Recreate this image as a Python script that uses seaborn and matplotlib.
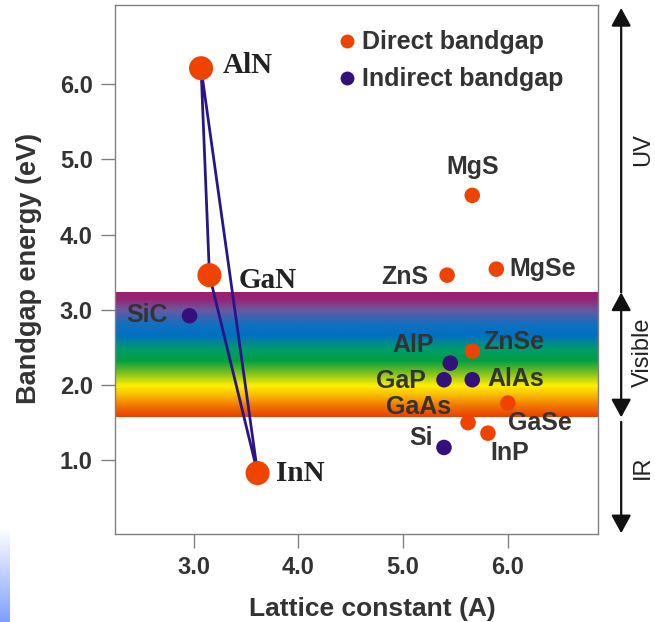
import numpy as np
import pandas as pd
import matplotlib.pyplot as plt
from matplotlib.colors import LinearSegmentedColormap
from matplotlib.lines import Line2D
import seaborn as sns

# values
compounds = ["AlN", "GaN", "InN", "MgS", "ZnS", "MgSe", "SiC", "ZnSe",
             "AlP", "GaP", "AlAs", "GaSe", "GaAs", "InP", "Si"]
lattice = [3.07, 3.15, 3.61, 5.66, 5.42, 5.89, 2.96, 5.66,
           5.45, 5.39, 5.66, 6.00, 5.62, 5.81, 5.39]
bandgap = [6.21, 3.46, 0.83, 4.52, 3.46, 3.54, 2.92, 2.45,
           2.29, 2.07, 2.07, 1.76, 1.50, 1.36, 1.17]
gap_type = ["Direct", "Direct", "Direct", "Direct", "Direct", "Direct", "Indirect", "Direct",
            "Indirect", "Indirect", "Indirect", "Direct", "Direct", "Direct", "Indirect"]
nitrides = ["AlN", "GaN", "InN"]
triangle = ["AlN", "GaN", "InN", "AlN"]

visible_lo, visible_hi = 1.57, 3.23
xticks = [3.0, 4.0, 5.0, 6.0]
yticks = [1.0, 2.0, 3.0, 4.0, 5.0, 6.0]

df = pd.DataFrame({"compound": compounds, "a": lattice, "eg": bandgap, "gap": gap_type})
df["nitride"] = df["compound"].isin(nitrides)
tri = df.set_index("compound").loc[triangle].reset_index()

palette = {"Direct": "#ee4400", "Indirect": "#33107a"}

# label offsets in pixels (dx, dy, ha)
offsets = {
    "AlN": (22, 3, "left"), "GaN": (29, -5, "left"), "InN": (18, 0, "left"),
    "MgS": (0, 28, "center"), "ZnS": (-19, -2, "right"), "MgSe": (13, 0, "left"),
    "SiC": (-22, 1, "right"), "ZnSe": (11, 9, "left"), "AlP": (-16, 18, "right"),
    "GaP": (-18, -1, "right"), "AlAs": (15, 1, "left"), "GaSe": (0, -20, "left"),
    "GaAs": (-17, 16, "right"), "InP": (2, -20, "left"), "Si": (-11, 9, "right"),
}

sns.set_theme(style="white")
plt.rcParams["font.family"] = ["Liberation Sans", "DejaVu Sans"]

fig = plt.figure(figsize=(6.55, 6.22), dpi=100)
ax = fig.add_axes([115 / 655, 88 / 622, 483 / 655, 529 / 622])
ax.set_xlim(2.248, 6.861)
ax.set_ylim(0.02, 7.05)

# visible spectrum band
spectrum = LinearSegmentedColormap.from_list("spectrum", [
    (0.00, "#e84000"), (0.08, "#f07000"), (0.16, "#f8b000"), (0.25, "#fff000"),
    (0.35, "#80c020"), (0.45, "#00a040"), (0.55, "#009a70"), (0.65, "#0070c0"),
    (0.74, "#1070c0"), (0.86, "#6a58a0"), (0.94, "#962575"), (1.00, "#9b2070"),
])
grad = np.linspace(0, 1, 256).reshape(-1, 1)
ax.imshow(grad, cmap=spectrum, origin="lower", aspect="auto", zorder=0,
          extent=[2.248, 6.861, visible_lo, visible_hi])

sns.lineplot(data=tri, x="a", y="eg", sort=False, estimator=None, ax=ax,
             color="#2a1488", linewidth=2.0, zorder=2)
sns.scatterplot(data=df, x="a", y="eg", hue="gap", palette=palette,
                size="nitride", sizes={True: 300, False: 125},
                edgecolor="none", linewidth=0, legend=False, ax=ax, zorder=3)

for _, r in df.iterrows():
    dx, dy, ha = offsets[r["compound"]]
    if r["nitride"]:
        font = dict(family="Liberation Serif", size=21, weight="bold", color="#222222")
    else:
        font = dict(family="Liberation Sans", size=18, weight="bold", color="#333333")
    ax.annotate(r["compound"], (r["a"], r["eg"]), xytext=(dx, dy),
                textcoords="offset pixels", ha=ha, va="center", **font)

handles = [Line2D([], [], ls="", marker="o", markersize=10, color=palette[k],
                  markeredgewidth=0) for k in ["Direct", "Indirect"]]
ax.legend(handles, ["Direct bandgap", "Indirect bandgap"], loc="upper left",
          bbox_to_anchor=(0.468, 0.952), frameon=False, labelcolor="#333333",
          prop=dict(family="Liberation Sans", weight="bold", size=18),
          handlelength=0.48, handletextpad=0.36, labelspacing=0.52,
          borderpad=0, borderaxespad=0)

ax.set_xticks(xticks)
ax.set_yticks(yticks)
ax.set_xticklabels([f"{v:.1f}" for v in xticks])
ax.set_yticklabels([f"{v:.1f}" for v in yticks])
ax.tick_params(length=10, width=1.0, color="#808080", pad=6, labelsize=17,
               labelcolor="#333333", bottom=True, left=True)
for lbl in ax.get_xticklabels() + ax.get_yticklabels():
    lbl.set_fontweight("bold")
for s in ax.spines.values():
    s.set_color("#808080")
    s.set_linewidth(1.0)

ax.set_xlabel("Lattice constant (A)", fontsize=19, fontweight="bold", color="#333333")
ax.set_ylabel("Bandgap energy (eV)", fontsize=19.5, fontweight="bold", color="#333333")
ax.xaxis.set_label_coords(0.532, -0.119)
ax.yaxis.set_label_coords(-0.151, 0.502)

# UV / visible / IR arrows on the right
tr = ax.get_yaxis_transform()
arrow = dict(color="#111111", lw=1.6, shrinkA=0, shrinkB=0, mutation_scale=20)
ax.annotate("", xy=(1.048, 7.01), xytext=(1.048, visible_hi), xycoords=tr,
            arrowprops=dict(arrowstyle="-|>,head_length=0.55,head_width=0.3", **arrow))
ax.annotate("", xy=(1.048, visible_lo), xytext=(1.048, visible_hi), xycoords=tr,
            arrowprops=dict(arrowstyle="<|-|>,head_length=0.55,head_width=0.3", **arrow))
ax.annotate("", xy=(1.048, 0.03), xytext=(1.048, 1.51), xycoords=tr,
            arrowprops=dict(arrowstyle="-|>,head_length=0.55,head_width=0.3", **arrow))
for txt, yy in [("UV", 150), ("Visible", 352), ("IR", 467)]:
    fig.text(643 / 655, 1 - yy / 622, txt, rotation=90, ha="center", va="center",
             fontsize=17, color="#222222")

# faint blue strip at the lower left edge
strip = fig.add_axes([0, 0, 10 / 655, 95 / 622])
strip.imshow(np.linspace(0, 1, 64).reshape(-1, 1), origin="upper", aspect="auto",
             cmap=LinearSegmentedColormap.from_list("strip", ["#ffffff", "#7fa0ff"]))
strip.axis("off")

fig.savefig("out.png", dpi=100)
